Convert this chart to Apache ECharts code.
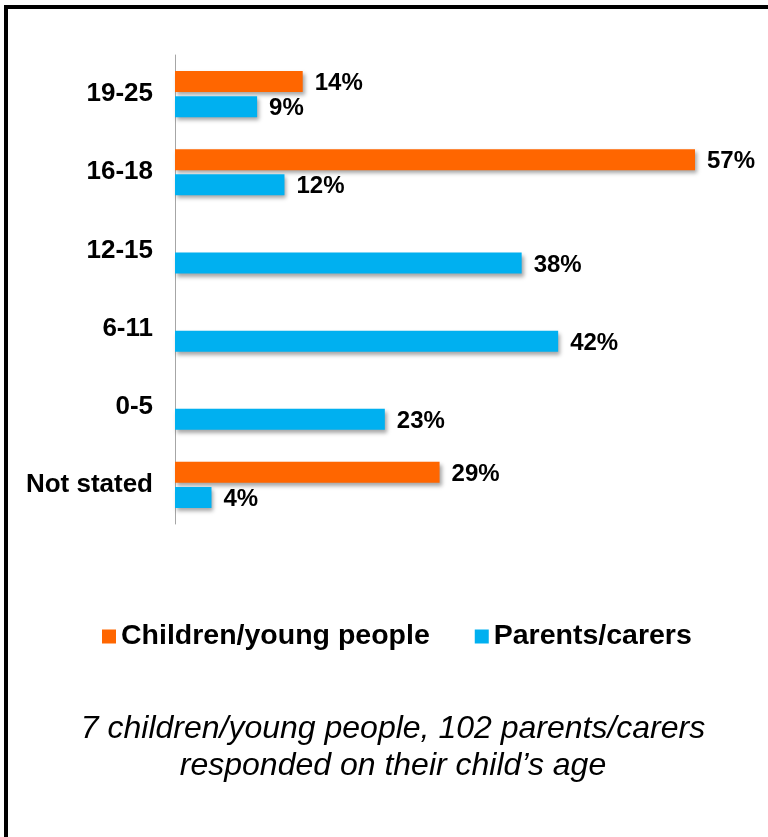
<!DOCTYPE html>
<html>
<head>
<meta charset="utf-8">
<script src="https://cdn.jsdelivr.net/npm/echarts@6/dist/echarts.min.js"></script>
<style>
  html, body { margin: 0; padding: 0; background: #fff; }
  #chart { position: absolute; left: 0; top: 0; width: 768px; height: 837px; }
  #frame { position: absolute; left: 4px; top: 5px; width: 764px; height: 832px;
           border-top: 4px solid #000; border-left: 4px solid #000; box-sizing: border-box;
           pointer-events: none; }
</style>
</head>
<body>
<div id="chart"></div>
<div id="frame"></div>
<script>
// Age groups, top to bottom
const ageGroups = ['19-25', '16-18', '12-15', '6-11', '0-5', 'Not stated'];
// Share of respondents (%) in each age group
const childrenYoungPeople = [14, 57, null, null, null, 29];
const parentsCarers = [9, 12, 38, 42, 23, 4];
const seriesNames = ['Children/young people', 'Parents/carers'];
const footnote = '7 children/young people, 102 parents/carers\nresponded on their child\u2019s age';

const FONT = '"Liberation Sans", Arial, sans-serif';
const ORANGE = '#FF6600';
const BLUE = '#00B0F0';

const barShadow = {
  shadowBlur: 4,
  shadowColor: 'rgba(0,0,0,0.35)',
  shadowOffsetX: 2,
  shadowOffsetY: 3
};

const valueLabel = {
  show: true,
  position: 'right',
  distance: 12,
  offset: [0, 2],
  color: '#000',
  fontFamily: FONT,
  fontWeight: 'bold',
  fontSize: 24,
  formatter: p => p.value + '%'
};

const chart = echarts.init(document.getElementById('chart'), null, { renderer: 'canvas' });
chart.setOption({
  animation: false,
  backgroundColor: '#fff',
  textStyle: { fontFamily: FONT },
  title: {
    text: footnote,
    left: 388,
    top: 706,
    textAlign: 'center',
    textStyle: {
      fontFamily: FONT,
      fontStyle: 'italic',
      fontWeight: 'normal',
      fontSize: 32,
      lineHeight: 37,
      color: '#000'
    }
  },
  legend: {
    data: seriesNames,
    left: 97,
    top: 617,
    icon: 'rect',
    itemWidth: 14,
    itemHeight: 14,
    itemGap: 45,
    textStyle: {
      fontFamily: FONT,
      fontWeight: 'bold',
      fontSize: 28.5,
      color: '#000'
    }
  },
  grid: { left: 175, top: 55, width: 520, height: 469, containLabel: false },
  xAxis: {
    type: 'value',
    min: 0,
    max: 57,
    show: false
  },
  yAxis: {
    type: 'category',
    data: ageGroups,
    inverse: true,
    axisLine: { show: true, lineStyle: { color: '#A6A6A6', width: 1 } },
    axisTick: { show: false },
    axisLabel: {
      margin: 22,
      color: '#000',
      fontFamily: FONT,
      fontWeight: 'bold',
      fontSize: 26
    }
  },
  series: [
    {
      name: seriesNames[0],
      type: 'bar',
      data: childrenYoungPeople,
      barWidth: 21,
      barGap: '20%',
      itemStyle: Object.assign({ color: ORANGE }, barShadow),
      label: valueLabel
    },
    {
      name: seriesNames[1],
      type: 'bar',
      data: parentsCarers,
      barWidth: 21,
      barGap: '20%',
      itemStyle: Object.assign({ color: BLUE }, barShadow),
      label: valueLabel
    }
  ]
});
</script>
</body>
</html>
